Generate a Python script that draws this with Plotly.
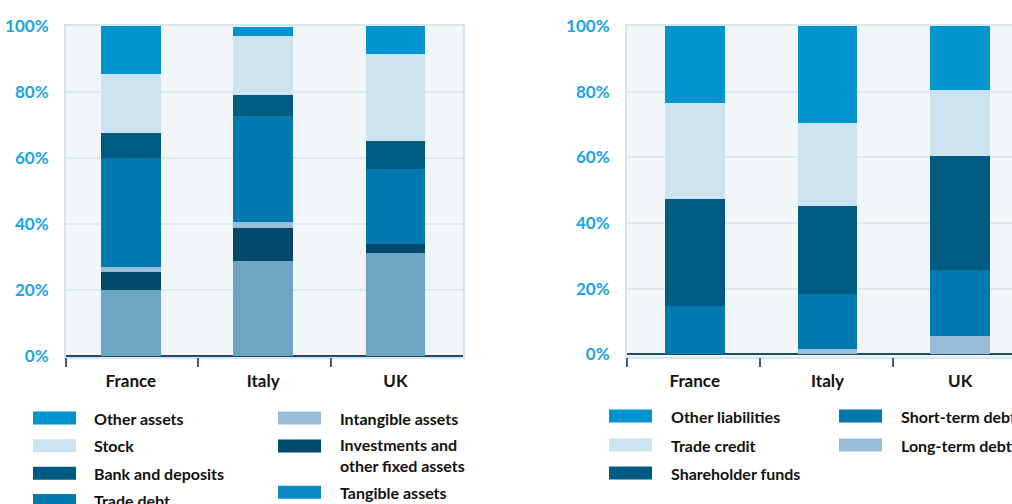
import plotly.graph_objects as go

# ---------------- data ----------------
countries = ["France", "Italy", "UK"]

# Assets, stacked bottom -> top (% of total)
tangible_assets = [20.0, 28.8, 31.0]
investments_fixed = [5.5, 10.0, 3.0]
intangible_assets = [1.5, 1.8, 0.0]
trade_debt = [33.0, 32.1, 22.5]
bank_deposits = [7.5, 6.4, 8.5]
stock = [18.0, 17.9, 26.5]
other_assets = [14.5, 2.8, 8.5]

# Liabilities, stacked bottom -> top (% of total)
long_term_debt = [0.0, 1.7, 5.6]
short_term_debt = [14.7, 16.7, 20.1]
shareholder_funds = [32.7, 26.9, 34.8]
trade_credit = [29.2, 25.3, 20.1]
other_liabilities = [23.4, 29.4, 19.4]

y_tick_vals = [0, 20, 40, 60, 80, 100]
y_tick_text = ["0%", "20%", "40%", "60%", "80%", "100%"]

# ---------------- styles ----------------
C_OTHER = "#0095d0"
C_STOCK = "#cce3f1"
C_BANK = "#005b82"
C_TRADE = "#0079ae"
C_INTANG = "#97bdd8"
C_INVEST = "#014a6c"
C_TANG = "#6ea4c3"
C_TANG_LEG = "#0a8ac4"

FONT = "Lato"
W, H = 1012, 504

asset_series = [
    ("Tangible assets", tangible_assets, C_TANG),
    ("Investments and other fixed assets", investments_fixed, C_INVEST),
    ("Intangible assets", intangible_assets, C_INTANG),
    ("Trade debt", trade_debt, C_TRADE),
    ("Bank and deposits", bank_deposits, C_BANK),
    ("Stock", stock, C_STOCK),
    ("Other assets", other_assets, C_OTHER),
]
liab_series = [
    ("Long-term debt", long_term_debt, C_INTANG),
    ("Short-term debt", short_term_debt, C_TRADE),
    ("Shareholder funds", shareholder_funds, C_BANK),
    ("Trade credit", trade_credit, C_STOCK),
    ("Other liabilities", other_liabilities, C_OTHER),
]

fig = go.Figure()
for name, vals, col in asset_series:
    fig.add_trace(go.Bar(x=countries, y=vals, name=name, marker_color=col,
                         marker_line_width=0, width=0.45, xaxis="x", yaxis="y",
                         showlegend=False))
for name, vals, col in liab_series:
    fig.add_trace(go.Bar(x=countries, y=vals, name=name, marker_color=col,
                         marker_line_width=0, width=0.45, xaxis="x2", yaxis="y2",
                         showlegend=False))
# empty helper traces so the boundary-tick axes are rendered
fig.add_trace(go.Scatter(x=[], y=[], xaxis="x3", yaxis="y", showlegend=False,
                         hoverinfo="skip"))
fig.add_trace(go.Scatter(x=[], y=[], xaxis="x4", yaxis="y2", showlegend=False,
                         hoverinfo="skip"))


def px_x(x):
    return x / W


def px_y(y):
    return 1 - y / H


y_dom = [px_y(357), px_y(26)]
border = "#d5e6f1"
grid = "#dce9f2"

common_x = dict(type="category", ticks="outside", ticklen=8,
                tickcolor="rgba(0,0,0,0)", showgrid=False, zeroline=False,
                showline=True, linecolor=border, linewidth=2,
                tickfont=dict(family=FONT, size=17, color="#111111", weight="bold"))
common_y = dict(tickvals=y_tick_vals, ticktext=y_tick_text, showgrid=True,
                gridcolor=grid, gridwidth=1.5, zeroline=True, zerolinecolor="#1f4b66",
                zerolinewidth=1.5, showline=True, linecolor=border, linewidth=2,
                ticks="", ticklabelstandoff=12,
                tickfont=dict(family=FONT, size=17, color="#19a5e4", weight="bold"))
tick_axis = dict(type="linear", tickvals=[-0.5, 0.5, 1.5], ticks="outside",
                 ticklen=9, tickwidth=1.5, tickcolor="#3c6178",
                 showticklabels=False, showgrid=False, zeroline=False,
                 showline=False)

fig.update_layout(
    width=W, height=H, barmode="stack",
    margin=dict(l=0, r=0, t=0, b=0, autoexpand=False),
    paper_bgcolor="white", plot_bgcolor="#f2f6f9",
    font=dict(family=FONT),
    xaxis=dict(common_x, domain=[px_x(66), px_x(463)], range=[-0.49, 2.51],
               mirror=True, anchor="y"),
    yaxis=dict(common_y, domain=y_dom, range=[-0.4, 100], mirror=True, anchor="x"),
    xaxis2=dict(common_x, domain=[px_x(627), 1.0], range=[-0.51, 2.39],
                mirror=True, anchor="y2"),
    yaxis2=dict(common_y, domain=y_dom, range=[-0.8, 100], mirror=False, anchor="x2"),
    xaxis3=dict(tick_axis, overlaying="x", anchor="y", range=[-0.5, 2.5]),
    xaxis4=dict(tick_axis, overlaying="x2", anchor="y2", range=[-0.5, 2.4]),
)

# ---------------- manual legends ----------------
shapes = []
annots = []


def legend_item(x0, ytext, label, color, tx, yswatch=None):
    ys = ytext if yswatch is None else yswatch
    if color is not None:
        shapes.append(dict(type="rect", xref="paper", yref="paper",
                           x0=px_x(x0), x1=px_x(x0 + 43),
                           y0=px_y(ys + 6.5), y1=px_y(ys - 6.5),
                           fillcolor=color, line=dict(width=0), layer="above"))
    annots.append(dict(xref="paper", yref="paper", x=px_x(tx), y=px_y(ytext),
                       xanchor="left", yanchor="middle", showarrow=False,
                       text=label, align="left",
                       font=dict(family=FONT, size=16, color="#111111", weight="bold")))


# left legend
legend_item(33, 418, "Other assets", C_OTHER, 92)
legend_item(33, 445.7, "Stock", C_STOCK, 92)
legend_item(33, 473.3, "Bank and deposits", C_BANK, 92)
legend_item(33, 500.5, "Trade debt", C_TRADE, 92)
legend_item(278, 418, "Intangible assets", C_INTANG, 338)
legend_item(278, 455, "Investments and<br>other fixed assets", C_INVEST, 338, yswatch=446)
legend_item(278, 492.3, "Tangible assets", C_TANG_LEG, 338)

# right legend
legend_item(609, 416, "Other liabilities", C_OTHER, 669)
legend_item(609, 445, "Trade credit", C_STOCK, 669)
legend_item(609, 473, "Shareholder funds", C_BANK, 669)
legend_item(839, 416, "Short-term debt", C_TRADE, 899)
legend_item(839, 445, "Long-term debt", C_INTANG, 899)

fig.update_layout(shapes=shapes, annotations=annots)

fig.write_html("out.html", config={"displayModeBar": False},
               post_script="document.body.style.margin='0';")
